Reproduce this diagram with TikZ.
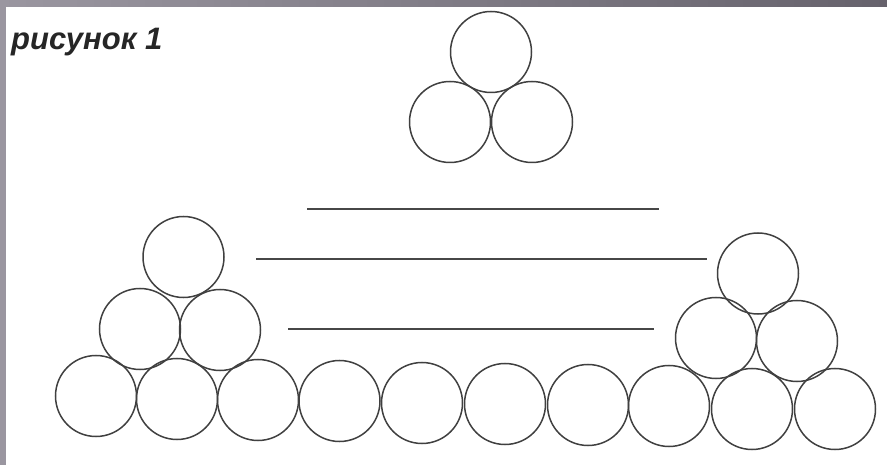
\documentclass[tikz,border=0pt]{standalone}
\usepackage{fontspec}
\setmainfont{Liberation Sans}
\definecolor{bandL}{HTML}{9A96A0}
\definecolor{bandR}{HTML}{66626C}
\begin{document}
\begin{tikzpicture}[x=1pt,y=-1pt,
  ball/.style={circle,draw=black!75,line width=1.5pt,minimum size=81pt,inner sep=0pt},
  rule/.style={draw=black!72,line width=2.2pt}]
\useasboundingbox (0,0) rectangle (887,465);
\shade[left color=bandL,right color=bandR] (0,0) rectangle (887,465);
\fill[white] (6,7) rectangle (887,465);
\node[anchor=base west,inner sep=0pt,text=black!85,font=\fontsize{31}{34}\selectfont\bfseries\itshape] (title) at (11,50) {рисунок 1};
% top triangle
\node[ball] (t1) at (491,52) {};
\node[ball] (t2) at (450,122) {};
\node[ball] (t3) at (532,122) {};
% left pyramid
\node[ball] (l1) at (183.5,257) {};
\node[ball] (l2) at (140,329) {};
\node[ball] (l3) at (220,330) {};
% right pyramid
\node[ball] (r1) at (758,273.5) {};
\node[ball] (r2) at (716,338) {};
\node[ball] (r3) at (797,341) {};
% bottom row
\node[ball] (b1) at (96,396) {};
\node[ball] (b2) at (177,399) {};
\node[ball] (b3) at (258,400) {};
\node[ball] (b4) at (339.5,401) {};
\node[ball] (b5) at (422,403) {};
\node[ball] (b6) at (505,404) {};
\node[ball] (b7) at (588,405) {};
\node[ball] (b8) at (669,406) {};
\node[ball] (b9) at (752,409) {};
\node[ball] (b10) at (835,409) {};
% lines
\coordinate (a1) at (307,209); \coordinate (a2) at (659,209);
\coordinate (c1) at (256,259); \coordinate (c2) at (707,259);
\coordinate (d1) at (288,329); \coordinate (d2) at (654,329);
\draw[rule] (a1) -- (a2);
\draw[rule] (c1) -- (c2);
\draw[rule] (d1) -- (d2);
\end{tikzpicture}
\end{document}
